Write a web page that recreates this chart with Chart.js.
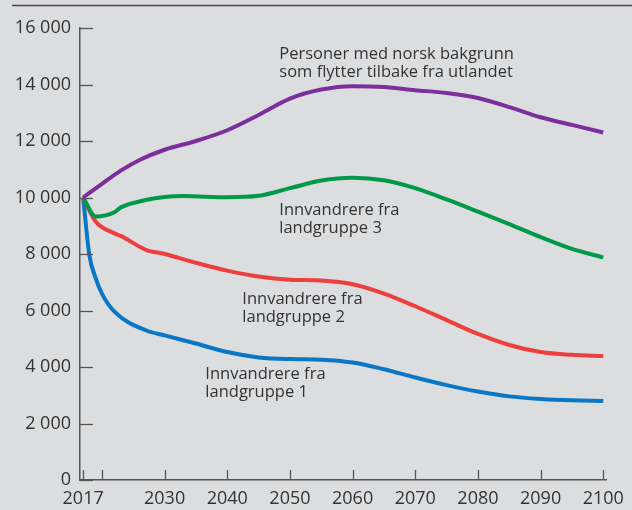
<!DOCTYPE html>
<html>
<head>
<meta charset="utf-8">
<script src="https://cdn.jsdelivr.net/npm/chart.js@4"></script>
<style>
  html, body { margin: 0; padding: 0; background: #dcdddf; }
  #wrap { width: 632px; height: 510px; position: relative; }
</style>
</head>
<body>
<div id="wrap"><canvas id="c" width="632" height="510"></canvas></div>
<script>
// ---- data ----
const yearsNorsk = [2017, 2020, 2023, 2026, 2030, 2035, 2040, 2045, 2050, 2055, 2060, 2065, 2070, 2075, 2080, 2085, 2090, 2095, 2100];
const valuesNorsk = [10000, 10480, 10950, 11330, 11690, 12000, 12380, 12920, 13500, 13820, 13940, 13910, 13800, 13700, 13520, 13200, 12840, 12570, 12300];

const yearsLg3 = [2017, 2019, 2022, 2023, 2027, 2030, 2033, 2040, 2045, 2050, 2055, 2060, 2065, 2070, 2075, 2080, 2085, 2090, 2095, 2100];
const valuesLg3 = [10000, 9330, 9480, 9650, 9910, 10020, 10050, 10010, 10060, 10330, 10600, 10700, 10610, 10330, 9930, 9500, 9060, 8600, 8180, 7880];

const yearsLg2 = [2017, 2019, 2022, 2023, 2027, 2030, 2035, 2040, 2045, 2050, 2055, 2060, 2065, 2070, 2075, 2080, 2085, 2090, 2095, 2100];
const valuesLg2 = [10000, 9150, 8730, 8640, 8150, 8000, 7690, 7410, 7200, 7090, 7060, 6930, 6600, 6150, 5660, 5170, 4780, 4530, 4430, 4390];

const yearsLg1 = [2017, 2018, 2019, 2020, 2022, 2027, 2030, 2035, 2040, 2045, 2050, 2055, 2060, 2065, 2070, 2075, 2080, 2085, 2090, 2095, 2100];
const valuesLg1 = [10000, 7950, 7150, 6600, 5960, 5300, 5120, 4830, 4530, 4340, 4280, 4260, 4160, 3920, 3630, 3360, 3130, 2960, 2870, 2820, 2800];

const xTickValues = [2017, 2020, 2030, 2040, 2050, 2060, 2070, 2080, 2090, 2100];
const xTickLabels = ['2017', '', '2030', '2040', '2050', '2060', '2070', '2080', '2090', '2100'];
const yTickValues = [0, 2000, 4000, 6000, 8000, 10000, 12000, 14000, 16000];
const yTickLabels = ['0', '2 000', '4 000', '6 000', '8 000', '10 000', '12 000', '14 000', '16 000'];

// label texts and their anchor (year, value) on the chart scales
const labelLines = [
  ['Personer med norsk bakgrunn', 'som flytter tilbake fra utlandet'],
  ['Innvandrere fra', 'landgruppe 3'],
  ['Innvandrere fra', 'landgruppe 2'],
  ['Innvandrere fra', 'landgruppe 1']
];
const labelYears = [2048.3, 2048.3, 2042.4, 2036.5];
const labelValues = [15080, 9560, 6410, 3750];

const seriesColors = ['#7b2f9c', '#00994a', '#ef3e3e', '#0a76c6'];

const FONT = '"Open Sans", "DejaVu Sans", sans-serif';
const TEXT = '#333333';
const AXIS = '#555555';

function pts(xs, ys) { return xs.map((x, i) => ({ x: x, y: ys[i] })); }

const decor = {
  id: 'decor',
  beforeDraw(chart) {
    const ctx = chart.ctx;
    ctx.save();
    ctx.fillStyle = '#dcdddf';
    ctx.fillRect(0, 0, chart.width, chart.height);
    ctx.strokeStyle = '#4a4a4a';
    ctx.lineWidth = 1.6;
    ctx.beginPath();
    ctx.moveTo(12, 5.5);
    ctx.lineTo(chart.width, 5.5);
    ctx.stroke();
    ctx.restore();
  },
  afterDatasetsDraw(chart) {
    const ctx = chart.ctx;
    const xs = chart.scales.x, ys = chart.scales.y;
    ctx.save();
    ctx.strokeStyle = AXIS;
    ctx.lineWidth = 1.3;
    // inward ticks
    const base = ys.getPixelForValue(0);
    xTickValues.forEach(v => {
      const px = Math.round(xs.getPixelForValue(v)) + 0.5;
      ctx.beginPath();
      ctx.moveTo(px, base);
      ctx.lineTo(px, base - 10);
      ctx.stroke();
    });
    const left = xs.left;
    yTickValues.forEach(v => {
      const py = Math.round(ys.getPixelForValue(v)) + 0.5;
      ctx.beginPath();
      ctx.moveTo(left, py);
      ctx.lineTo(left + 13, py);
      ctx.stroke();
    });
    // series labels
    ctx.fillStyle = TEXT;
    ctx.font = '16.5px ' + FONT;
    ctx.textAlign = 'left';
    ctx.textBaseline = 'middle';
    labelLines.forEach((lines, i) => {
      const px = xs.getPixelForValue(labelYears[i]);
      const py = ys.getPixelForValue(labelValues[i]);
      lines.forEach((t, j) => ctx.fillText(t, px, py + j * 18.7));
    });
    ctx.restore();
  }
};

const names = ['Personer med norsk bakgrunn som flytter tilbake fra utlandet', 'Innvandrere fra landgruppe 3', 'Innvandrere fra landgruppe 2', 'Innvandrere fra landgruppe 1'];
const dataSets = [pts(yearsNorsk, valuesNorsk), pts(yearsLg3, valuesLg3), pts(yearsLg2, valuesLg2), pts(yearsLg1, valuesLg1)];

new Chart(document.getElementById('c'), {
  type: 'line',
  data: {
    datasets: dataSets.map((d, i) => ({
      label: names[i],
      data: d,
      borderColor: seriesColors[i],
      borderWidth: 4,
      pointRadius: 0,
      fill: false,
      cubicInterpolationMode: 'monotone',
      borderCapStyle: 'butt'
    }))
  },
  options: {
    responsive: false,
    animation: false,
    devicePixelRatio: 1,
    layout: { padding: { left: 0, right: 25, top: 28, bottom: 0 } },
    plugins: { legend: { display: false }, tooltip: { enabled: false } },
    scales: {
      x: {
        type: 'linear',
        min: 2016.5,
        max: 2100.5,
        afterBuildTicks(scale) { scale.ticks = xTickValues.map(v => ({ value: v })); },
        afterFit(scale) { scale.height = 30; },
        grid: { display: false, drawTicks: false },
        border: { display: true, color: AXIS, width: 1.5 },
        ticks: {
          autoSkip: false,
          maxRotation: 0,
          padding: 8,
          color: TEXT,
          font: { family: FONT, size: 18 },
          callback(v) { const i = xTickValues.indexOf(v); return i >= 0 ? xTickLabels[i] : ''; }
        }
      },
      y: {
        min: 0,
        max: 16000,
        afterBuildTicks(scale) { scale.ticks = yTickValues.map(v => ({ value: v })); },
        afterFit(scale) { scale.width = 80; },
        grid: { display: false, drawTicks: false },
        border: { display: true, color: AXIS, width: 1.5 },
        ticks: {
          padding: 9,
          color: TEXT,
          font: { family: FONT, size: 18 },
          callback(v) { const i = yTickValues.indexOf(v); return i >= 0 ? yTickLabels[i] : ''; }
        }
      }
    }
  },
  plugins: [decor]
});
</script>
</body>
</html>
